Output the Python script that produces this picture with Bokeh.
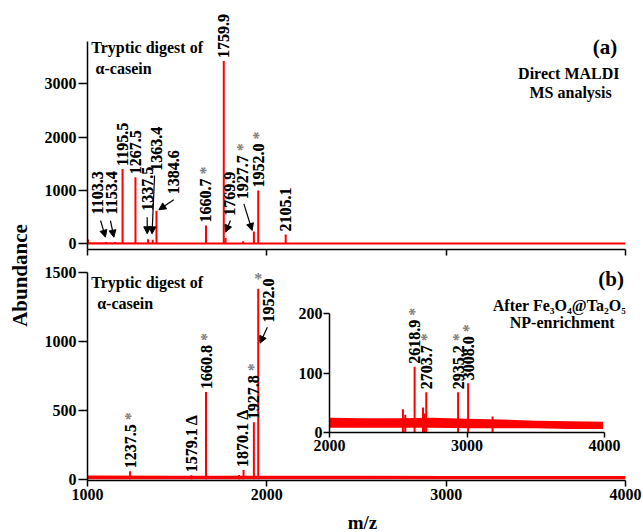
import math
from bokeh.plotting import figure
from bokeh.models import Range1d, FixedTicker, Arrow, NormalHead, ColumnDataSource
from bokeh.core.properties import value
from bokeh.embed import file_html
from bokeh.resources import INLINE

# ---------------- data ----------------
# panel (a): direct MALDI MS
mz_a = [1003, 1103.3, 1153.4, 1195.5, 1267.5, 1337.5, 1363.4, 1384.6, 1660.7,
        1759.9, 1769.9, 1868, 1927.7, 1952.0, 2105.1]
ab_a = [80, 35, 35, 1405, 1247, 85, 75, 620, 345, 3430, 110, 50, 230, 1000, 175]
base_a_mz = [1000, 1500, 2000, 2500, 3000, 3500, 4000]
base_a_lo = [-15, -15, -15, -15, -15, -15, -15]
base_a_hi = [30, 25, 25, 25, 25, 25, 25]

lab_a_text = ["1103.3", "1153.4", "1195.5", "1267.5", "1337.5", "1363.4", "1384.6",
              "1660.7", "1759.9", "1769.9", "1927.7", "1952.0", "2105.1"]
lab_a_x = [1056, 1136, 1195.5, 1267.5, 1333, 1383, 1481, 1660.7, 1759.9, 1792, 1864, 1952.0, 2105.1]
lab_a_y = [494, 494, 1405, 1247, 563, 1313, 874, 345, 3430, 469, 780, 1000, 175]
lab_a_star = [False, False, False, False, False, False, False, True, False, False, True, True, False]
arr_a_x0 = [1073, 1128, 1333, 1374, 1481, 1797, 1872]
arr_a_y0 = [437, 437, 499, 1281, 826, 437, 750]
arr_a_x1 = [1100, 1147, 1333, 1360, 1398, 1770, 1918]
arr_a_y1 = [124, 124, 188, 188, 638, 218, 250]

# panel (b): after Fe3O4@Ta2O5 NP enrichment
mz_b = [1237.5, 1579.1, 1660.8, 1845, 1870.1, 1927.8, 1952.0]
ab_b = [58, 28, 635, 30, 67, 415, 1385]
base_b_mz = [1000, 1500, 2000, 2500, 3000, 3500, 4000]
base_b_lo = [0, 0, 0, 0, 0, 0, 0]
base_b_hi = [26, 25, 25, 25, 24, 24, 24]

lab_b_text = ["1237.5", "1579.1 Δ", "1660.8", "1870.1 Δ", "1927.8", "1952.0"]
lab_b_x = [1237.5, 1579.1, 1660.8, 1866, 1927.8, 2011]
lab_b_y = [58, 28, 635, 67, 415, 1118]
lab_b_star = [True, False, True, False, True, False]
star_b_x = [1952.0]
star_b_y = [1460]
arr_b_x0 = [2003]
arr_b_y0 = [1105]
arr_b_x1 = [1962]
arr_b_y1 = [989]

# inset (2000-4000)
mz_in = [2534, 2551, 2618.9, 2680, 2692, 2703.7, 2935.2, 3008.0, 3186]
ab_in = [39, 30, 111, 42, 32, 68, 68, 83, 27]
band_in_mz = [2000, 2250, 2500, 2750, 3000, 3250, 3500, 3750, 3990]
band_in_lo = [8, 8, 8, 8, 7, 7, 7, 6, 6]
band_in_hi = [25, 24, 24, 25, 23, 22, 20, 19, 18]
lab_in_text = ["2618.9", "2703.7", "2935.2", "3008.0"]
lab_in_x = [2618.9, 2703.7, 2935.2, 3008.0]
lab_in_y = [111, 68, 68, 83]

x_ticks_main = [1000, 2000, 3000, 4000]
y_ticks_a = [0, 1000, 2000, 3000]
y_ticks_b = [0, 500, 1000, 1500]
x_ticks_in = [2000, 3000, 4000]
y_ticks_in = [0, 100, 200]

# ---------------- style ----------------
FONT = "Liberation Serif"
RED = "#ff0000"
GRAY = "#808080"
W, H = 643, 532


def make_fig(x0, x1, y0, y1, left, right, top, bottom):
    p = figure(width=W, height=H, x_range=Range1d(x0, x1), y_range=Range1d(y0, y1),
               output_backend="svg", toolbar_location=None, title=None,
               min_border_left=left, min_border_right=right,
               min_border_top=top, min_border_bottom=bottom)
    p.background_fill_color = None
    p.border_fill_color = None
    p.outline_line_color = None
    p.xgrid.visible = False
    p.ygrid.visible = False
    for ax in (p.xaxis[0], p.yaxis[0]):
        ax.axis_line_color = "black"
        ax.axis_line_width = 1.5
        ax.major_tick_line_color = "black"
        ax.major_tick_line_width = 1.5
        ax.major_tick_in = 0
        ax.minor_tick_line_color = None
        ax.major_label_text_font = FONT
        ax.major_label_text_font_style = "bold"
        ax.major_label_text_font_size = "16px"
        ax.major_label_text_color = "black"
    return p


def peak_labels(p, xs, ys, texts, stars, size="16px"):
    st = [t + " *" if s else t for t, s in zip(texts, stars)]
    src_g = ColumnDataSource(dict(x=xs, y=ys, t=st))
    p.text(x="x", y="y", text="t", source=src_g, angle=math.pi / 2,
           text_font=value(FONT), text_font_style="bold", text_font_size=size,
           text_color=GRAY, text_align="left", text_baseline="middle", y_offset=-3)
    src = ColumnDataSource(dict(x=xs, y=ys, t=texts))
    p.text(x="x", y="y", text="t", source=src, angle=math.pi / 2,
           text_font=value(FONT), text_font_style="bold", text_font_size=size,
           text_color="black", text_align="left", text_baseline="middle", y_offset=-3)


def arrows(p, x0, y0, x1, y1):
    src = ColumnDataSource(dict(x0=x0, y0=y0, x1=x1, y1=y1))
    p.add_layout(Arrow(end=NormalHead(size=7, fill_color="black", line_color="black", line_width=1),
                       x_start="x0", y_start="y0", x_end="x1", y_end="y1",
                       line_color="black", line_width=1.2, source=src))


def text(p, x, y, s, align="left", size="16px", angle=0.0, baseline="middle"):
    p.text(x=[x], y=[y], text=[s], text_font=value(FONT), text_font_style="bold",
           text_font_size=size, text_color="black", text_align=align,
           text_baseline=baseline, angle=angle)


# ---------------- panel (a) ----------------
pa = make_fig(1000, 4000, -107, 4471, 87, 18, 5, 283)
pa.xaxis.ticker = FixedTicker(ticks=x_ticks_main)
pa.yaxis.ticker = FixedTicker(ticks=y_ticks_a)
pa.xaxis.major_tick_out = 6
pa.xaxis.major_label_text_color = None
pa.yaxis.major_tick_out = 9
pa.yaxis.major_label_standoff = 2
pa.yaxis.bounds = (-107, 3800)

pa.varea(x=base_a_mz, y1=base_a_lo, y2=base_a_hi, fill_color=RED)
pa.segment(x0=mz_a, y0=[0] * len(mz_a), x1=mz_a, y1=ab_a, line_color=RED, line_width=2)
peak_labels(pa, lab_a_x, lab_a_y, lab_a_text, lab_a_star)
arrows(pa, arr_a_x0, arr_a_y0, arr_a_x1, arr_a_y1)
text(pa, 1021, 3689, "Tryptic digest of")
text(pa, 1045, 3283, "α-casein")
text(pa, 3954, 3689, "(a)", align="right", size="21px")
text(pa, 3684, 3201, "Direct MALDI", align="center")
text(pa, 3694, 2844, "MS analysis", align="center")

# ---------------- panel (b) ----------------
pb = make_fig(1000, 4000, -9.5, 1576, 87, 18, 262, 52)
pb.xaxis.ticker = FixedTicker(ticks=x_ticks_main)
pb.yaxis.ticker = FixedTicker(ticks=y_ticks_b)
pb.xaxis.major_tick_out = 6
pb.xaxis.major_label_standoff = 2
pb.yaxis.major_tick_out = 9
pb.yaxis.major_label_standoff = 2
pb.yaxis.bounds = (-9.5, 1500)

pb.varea(x=base_b_mz, y1=base_b_lo, y2=base_b_hi, fill_color=RED)
pb.segment(x0=mz_b, y0=[0] * len(mz_b), x1=mz_b, y1=ab_b, line_color=RED, line_width=2)
peak_labels(pb, lab_b_x, lab_b_y, lab_b_text, lab_b_star)
pb.text(x=star_b_x, y=star_b_y, text=["*"], text_font=value(FONT), text_font_style="bold",
        text_font_size="16px", text_color=GRAY, text_align="center", text_baseline="middle")
arrows(pb, arr_b_x0, arr_b_y0, arr_b_x1, arr_b_y1)
text(pb, 1021, 1433, "Tryptic digest of")
text(pb, 1054, 1276, "α-casein")
text(pb, 3991, 1457, "(b)", align="right", size="21px")
text(pb, 3632, 1263, "After Fe₃O₄@Ta₂O₅", align="center")
text(pb, 3647, 1142, "NP-enrichment", align="center")

# ---------------- inset ----------------
pi_ = make_fig(2000, 4000, 0, 222.6, 329, 39, 300, 100)
pi_.xaxis.ticker = FixedTicker(ticks=x_ticks_in)
pi_.yaxis.ticker = FixedTicker(ticks=y_ticks_in)
pi_.xaxis.major_tick_out = 5
pi_.xaxis.major_label_standoff = 2
pi_.yaxis.major_tick_out = 6
pi_.yaxis.major_label_standoff = 1
pi_.yaxis.bounds = (0, 200)

pi_.varea(x=band_in_mz, y1=band_in_lo, y2=band_in_hi, fill_color=RED)
pi_.segment(x0=mz_in, y0=[0] * len(mz_in), x1=mz_in, y1=ab_in, line_color=RED, line_width=2)
peak_labels(pi_, lab_in_x, lab_in_y, lab_in_text, [True] * 4)

# ---------------- shared axis titles (overlay in page pixels) ----------------
po = figure(width=W, height=H, x_range=Range1d(0, W), y_range=Range1d(H, 0),
            output_backend="svg", toolbar_location=None, title=None,
            x_axis_location=None, y_axis_location=None,
            min_border_left=0, min_border_right=0, min_border_top=0, min_border_bottom=0)
po.background_fill_color = None
po.border_fill_color = None
po.outline_line_color = None
po.xgrid.visible = False
po.ygrid.visible = False
text(po, 19.5, 275, "Abundance", align="center", size="21px", angle=math.pi / 2)
text(po, 362, 522, "m/z", align="center", size="19px", baseline="middle")

# the full-window canvases are stacked on top of each other
for fig in (pb, pi_, po):
    fig.margin = (-H, 0, 0, 0)

open("out.html", "w").write(file_html([pa, pb, pi_, po], INLINE))
